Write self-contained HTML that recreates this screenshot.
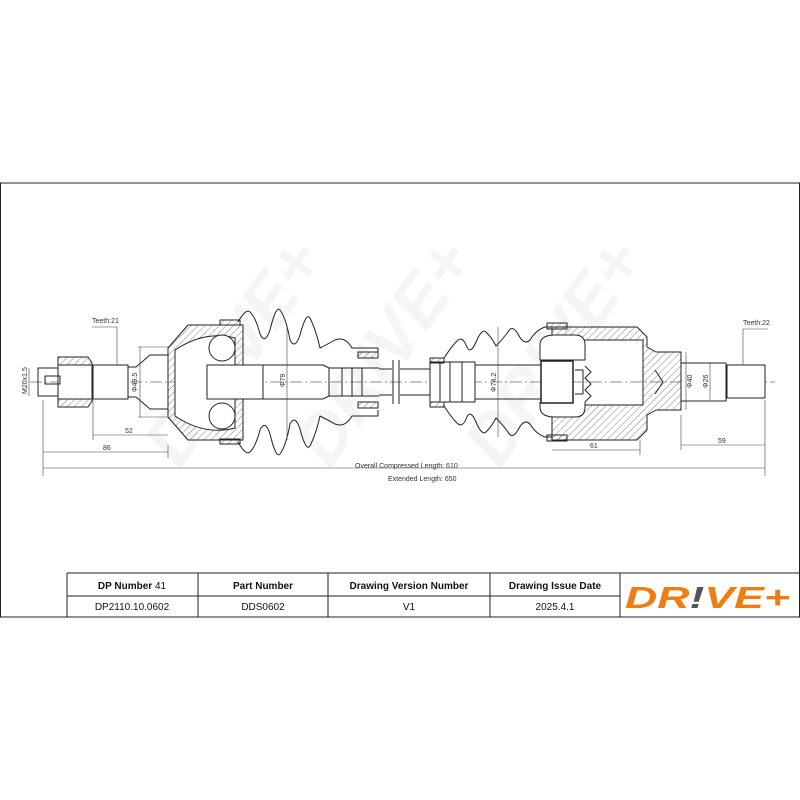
<!DOCTYPE html>
<html><head><meta charset="utf-8"><style>
html,body{margin:0;padding:0;background:#fff;width:800px;height:800px;overflow:hidden}
svg{display:block}
text{font-family:"Liberation Sans",sans-serif}
</style></head><body>
<svg width="800" height="800" viewBox="0 0 800 800" xmlns="http://www.w3.org/2000/svg">
<defs>
<pattern id="h" width="5" height="5" patternUnits="userSpaceOnUse" patternTransform="rotate(45)">
<line x1="0" y1="0" x2="0" y2="5" stroke="#333" stroke-width="0.6"/>
</pattern>
</defs>
<line x1="0" y1="183" x2="800" y2="183" stroke="#222" stroke-width="1"/>
<line x1="0" y1="617" x2="800" y2="617" stroke="#222" stroke-width="1"/>
<line x1="0.5" y1="183" x2="0.5" y2="617" stroke="#222"/>
<line x1="799.5" y1="183" x2="799.5" y2="617" stroke="#222"/>

<g fill="#f5f5f5" font-size="70" font-weight="bold" font-style="italic">
<text transform="translate(180,470) rotate(-55)">DRIVE+</text>
<text transform="translate(330,470) rotate(-55)">DRIVE+</text>
<text transform="translate(500,470) rotate(-55)">DRIVE+</text>
</g>

<g stroke="#222" stroke-width="1" fill="none" stroke-linejoin="round">
<line x1="30" y1="382" x2="775" y2="382" stroke-dasharray="12,3,2,3" stroke-width="0.6"/>
<rect x="38" y="368" width="20" height="28"/>
<path d="M58 357 h30 l4 6 v38 l-4 6 h-30 z" fill="url(#h)"/>
<rect x="58" y="365" width="34" height="34" fill="#fff"/>
<rect x="45" y="376" width="15" height="8"/>
<rect x="93" y="365" width="35" height="34" fill="#fff"/>
<path d="M128 367 h8 l14 -12 h18 v54 h-18 l-14 -12 h-8"/>
<path d="M168 348 l20 -23 h55 v115 h-55 l-20 -23 z" fill="url(#h)"/>
<path d="M175 350 q30 -20 60 -12 v90 q-30 8 -60 -12 z" fill="#fff"/>
<circle cx="222" cy="348" r="13" fill="#fff"/>
<circle cx="222" cy="416" r="13" fill="#fff"/>
<rect x="207" y="365" width="56" height="34" fill="#fff"/>
<path d="M238 322 Q246 308 250 312 Q256 318 260 334 Q265 345 270 330 Q276 305 280 310 Q286 318 290 340 Q295 350 300 335 Q306 312 310 318 Q316 330 320 348 Q326 345 335 340 Q345 336 352 348 H378 v6" />
<path d="M238 442 Q246 456 250 452 Q256 446 260 430 Q265 419 270 434 Q276 459 280 454 Q286 446 290 424 Q295 414 300 429 Q306 452 310 446 Q316 434 320 416 Q326 419 335 424 Q345 428 352 416 H378 v-6" />
<rect x="220" y="320" width="20" height="5" fill="url(#h)"/>
<rect x="220" y="439" width="20" height="5" fill="url(#h)"/>
<rect x="358" y="352" width="20" height="6" fill="url(#h)"/>
<rect x="358" y="402" width="20" height="6" fill="url(#h)"/>
<path d="M263 365 h60 l6 3 h50 M263 399 h60 l6 -3 h50" />
<line x1="329" y1="368" x2="329" y2="396"/><line x1="342" y1="368" x2="342" y2="396"/>
<line x1="352" y1="368" x2="352" y2="396"/><line x1="362" y1="368" x2="362" y2="396"/>
<path d="M379 369 h13 M379 395 h13 M400 369 h30 M400 395 h30"/>
<line x1="393" y1="360" x2="393" y2="404"/><line x1="399" y1="360" x2="399" y2="404"/>
<rect x="430" y="362" width="45" height="40" fill="#fff"/>
<line x1="440" y1="362" x2="440" y2="402"/><line x1="450" y1="362" x2="450" y2="402"/><line x1="462" y1="362" x2="462" y2="402"/>
<rect x="430" y="358" width="14" height="5" fill="url(#h)"/>
<rect x="430" y="402" width="14" height="5" fill="url(#h)"/>
<path d="M475 365 h70 M475 399 h70"/>
<path d="M444 358 Q452 346 456 342 Q462 335 466 345 Q470 356 476 342 Q482 328 486 332 Q492 338 496 346 Q502 340 508 332 Q512 324 518 334 Q524 346 530 340 Q536 330 545 327 H552" />
<path d="M444 406 Q452 418 456 422 Q462 429 466 419 Q470 408 476 422 Q482 436 486 432 Q492 426 496 418 Q502 424 508 432 Q512 440 518 430 Q524 418 530 424 Q536 434 545 437 H552" />
<rect x="547" y="323" width="20" height="6" fill="url(#h)"/>
<rect x="547" y="435" width="20" height="6" fill="url(#h)"/>
<path d="M552 327 h85 l10 10 v10 l9 5 h25 v58 h-25 l-9 5 v15 l-10 10 h-85 v-35 h91 v-65 h-91 z" fill="url(#h)"/>
<path d="M552 327 v110" />
<path d="M540 345 q0 -10 15 -10 h20 q10 0 10 10 v15 h-45 z" fill="#fff"/>
<path d="M540 402 v5 q0 10 15 10 h20 q10 0 10 -10 v-5" fill="#fff"/>
<rect x="541" y="361" width="32" height="42" fill="#fff" stroke-width="1.5"/>
<path d="M575 370 h8 v24 h-8 M585 366 l6 6 l-6 6 l6 6 l-6 6 l6 6 l-6 6"/>
<path d="M655 370 l8 12 l-8 12"/>
<rect x="681" y="363" width="45" height="38" fill="#fff"/>
<rect x="727" y="365" width="38" height="33" fill="#fff"/>
</g>

<g stroke="#444" stroke-width="0.6" fill="none">
<line x1="93" y1="435" x2="168" y2="435"/>
<line x1="93" y1="400" x2="93" y2="440"/><line x1="168" y1="445" x2="168" y2="458"/>
<line x1="43" y1="452" x2="168" y2="452"/>
<line x1="43" y1="400" x2="43" y2="476"/>
<line x1="43" y1="468" x2="765" y2="468"/>
<line x1="765" y1="400" x2="765" y2="476"/>
<line x1="552" y1="450" x2="640" y2="450"/>
<line x1="640" y1="440" x2="640" y2="455"/>
<line x1="681" y1="445" x2="765" y2="445"/>
<line x1="681" y1="415" x2="681" y2="450"/>
<line x1="138" y1="347" x2="168" y2="347"/><line x1="138" y1="417" x2="168" y2="417"/><line x1="140" y1="347" x2="140" y2="417"/>
<line x1="287" y1="325" x2="287" y2="440"/>
<line x1="498" y1="327" x2="498" y2="437"/>
<line x1="686" y1="352" x2="686" y2="410"/>
<line x1="710" y1="363" x2="710" y2="400"/>
<line x1="92" y1="327" x2="117" y2="327"/><line x1="117" y1="327" x2="117" y2="365"/>
<line x1="743" y1="329" x2="768" y2="329"/><line x1="743" y1="329" x2="743" y2="365"/>
<line x1="29" y1="368" x2="29" y2="396"/>
</g>
<g font-size="7" fill="#333">
<text x="92" y="323">Teeth:21</text>
<text x="743" y="325">Teeth:22</text>
<text x="125" y="433">52</text>
<text x="103" y="450">86</text>
<text x="590" y="448">61</text>
<text x="718" y="443">59</text>
<text x="355" y="468">Overall  Compressed  Length: 610</text>
<text x="388" y="481">Extended  Length: 650</text>
<text transform="translate(27,394) rotate(-90)">M20x1.5</text>
<text transform="translate(137,392) rotate(-90)">Φ49.5</text>
<text transform="translate(285,387) rotate(-90)">Φ79</text>
<text transform="translate(496,392) rotate(-90)">Φ74.2</text>
<text transform="translate(692,388) rotate(-90)">Φ40</text>
<text transform="translate(708,388) rotate(-90)">Φ26</text>
</g>

<g stroke="#222" stroke-width="1" fill="none">
<line x1="67" y1="573" x2="800" y2="573"/>
<line x1="67" y1="596" x2="620" y2="596"/>
<line x1="67" y1="573" x2="67" y2="617"/>
<line x1="198" y1="573" x2="198" y2="617"/>
<line x1="328" y1="573" x2="328" y2="617"/>
<line x1="490" y1="573" x2="490" y2="617"/>
<line x1="620" y1="573" x2="620" y2="617"/>
</g>
<g font-size="10" fill="#111" text-anchor="middle">
<text x="132" y="589"><tspan font-weight="bold">DP Number</tspan> 41</text>
<text x="263" y="589" font-weight="bold">Part Number</text>
<text x="409" y="589" font-weight="bold">Drawing Version Number</text>
<text x="555" y="589" font-weight="bold">Drawing Issue Date</text>
<text x="132" y="610">DP2110.10.0602</text>
<text x="263" y="610">DDS0602</text>
<text x="409" y="610">V1</text>
<text x="555" y="610">2025.4.1</text>
</g>
<text x="625" y="608" font-size="31" font-weight="bold" font-style="italic" fill="#f07c14" textLength="165" lengthAdjust="spacingAndGlyphs">DR<tspan fill="#555">!</tspan>VE+</text>
</svg>
</body></html>
